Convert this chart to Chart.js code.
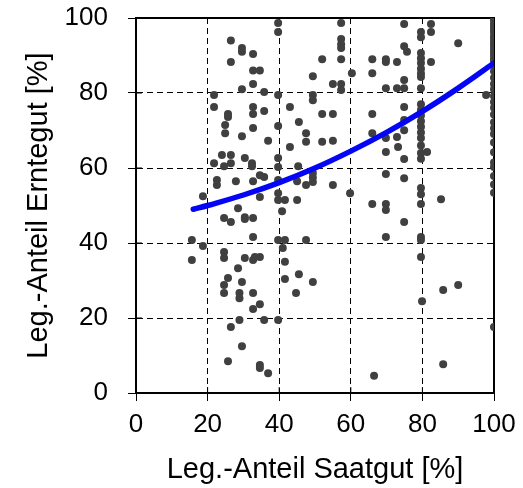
<!DOCTYPE html>
<html>
<head>
<meta charset="utf-8">
<script src="https://cdn.jsdelivr.net/npm/chart.js@4.4.0/dist/chart.umd.min.js"></script>
<style>
  html, body { margin: 0; padding: 0; background: #fff; }
  #wrap { width: 523px; height: 488px; }
</style>
</head>
<body>
<div id="wrap"><canvas id="scatter"></canvas></div>
<script>
// Legume share in seed (x) vs. legume share in harvest (y), in %
var seedShare = [
  26.5, 29.6, 29.6, 32.7, 26.5, 32.7, 32.7, 29.6, 21.8, 21.8, 25.7, 25.7, 24.9, 24.9, 29.6, 32.7, 32.7, 32.7,
  39.7, 39.7, 57.3, 57.3, 57.3, 57.3, 52, 57.3, 66, 34.6, 60.3, 66, 49.4, 55, 57.3, 57.3, 35.8, 39.7, 49.4, 49.4,
  35.8, 43, 52, 55, 66, 45.5, 39.7, 47.5, 47.5, 36.9, 55, 52, 66,
  74.9, 82.4, 82.4, 79.6, 79.6, 90, 74.9, 75.7, 69.8, 69.8, 72.9, 79.6, 79.6, 79.6, 79.6, 79.6, 79.6, 82.4,
  74.9, 74.9, 69.8, 72.9, 79.6, 97.8, 74.9, 79.6, 79.6, 79.6, 79.6, 79.6, 79.6, 69.8, 72.9, 74.9, 69.8, 73.2,
  74.9, 74.9, 79.6, 79.6, 79.6, 79.6, 81.3, 69.8, 74.9, 79.6, 79.6, 79.6, 85.2, 66, 69.8, 69.8, 74.9, 69.8,
  79.6, 79.6, 79.6,
  24, 26.5, 26.5, 21.8, 24.6, 30.4, 32.4, 22.6, 22.6, 27.9, 32.7, 18.7, 28.5, 24.6, 26.5, 30.4, 30.4, 32.7,
  15.6, 18.7, 32.7, 24.6, 24.6, 30.4, 15.6, 32.7, 28.5, 25.7, 24.6, 29.6, 24.6, 28.9, 28.9, 32.7, 32.7, 28.9,
  26.5, 29.6, 25.7,
  43, 39.7, 39.7, 32.4, 45.3, 34.6, 35.8, 49.4, 49.4, 49.4, 39.7, 45, 47.5, 55, 34.6, 39.7, 39.7, 41.6, 45,
  59.8, 40.8, 39.7, 41.6, 47.5, 41, 33.2, 34.6, 41.6, 45.5, 41.6, 49.4, 44.7, 34.6, 35.8, 39.7, 34.6, 34.6,
  36.9, 66.5, 85.8, 90, 79.9, 100, 85.8,
  100, 100, 100, 100, 100, 100, 100, 100, 100, 100, 100, 100, 100, 100, 100, 100, 100,
  100, 100, 100, 100, 100, 100, 100, 100, 100, 100, 100, 100, 100, 100, 100, 100, 100
];
var harvestShare = [
  94, 92, 91, 90.4, 88.3, 86, 82.4, 81, 79.5, 76.3, 74.4, 73.6, 71.5, 69.3, 68.5, 76.3, 74.4, 70.7,
  98.7, 96.3, 98.7, 94.4, 93, 92, 89, 89, 89, 86, 85.3, 85.3, 84.5, 82.4, 82.4, 80.8, 80.3, 79.5, 79.5, 78.1,
  75.2, 76.3, 74.4, 74.4, 74.4, 72.3, 71.2, 69.3, 67, 67.3, 67.3, 67, 69.3,
  98.4, 98.4, 96.3, 96.3, 94.9, 93.3, 92.5, 91, 89, 88.3, 88.3, 90.7, 89.3, 88, 86.5, 85.2, 84.3, 88.3,
  83.5, 81.3, 81.3, 81.3, 81.3, 79.5, 76.3, 77, 75.5, 74, 72.5, 71, 69.5, 68, 68.3, 72.8, 64.3, 65.6,
  70.1, 62.4, 68, 66, 64, 62.5, 64.3, 58.4, 57.3, 54.7, 53, 50.4, 51.7, 50.4, 50.4, 48.8, 45.6, 41.6,
  41.6, 40.8, 36.3,
  63.5, 63.5, 61.3, 61.3, 60.5, 62.7, 60.5, 56.8, 55.5, 56.5, 56.5, 52.5, 49.3, 46.7, 45.6, 46.9, 46.4, 46.7,
  40.8, 39.2, 41.6, 37.6, 36, 36, 35.5, 35.5, 33.3, 30.7, 28.8, 29.6, 26.7, 26.7, 25.3, 26.7, 22.4, 19.5,
  17.6, 12.5, 8.5,
  65.6, 62.7, 60.3, 61.3, 60.5, 58.1, 57.6, 58.7, 57.5, 56.3, 56.8, 56.5, 55.5, 55.5, 52.3, 53.3, 51.5, 51.5, 51.5,
  53.3, 48.5, 40.8, 40.8, 40.8, 38.7, 36.3, 36.3, 35, 31.7, 30.4, 29.6, 26.7, 23.7, 19.5, 19.5, 7.5, 6.7,
  5.3, 4.6, 27.5, 28.8, 24.5, 17.6, 7.7,
  100, 99.5, 98.6, 97.8, 97, 96.3, 95.2, 94.5, 93.6, 92.8, 91.9, 91, 90.2, 89.3, 88.6, 87.5, 85.8,
  84.1, 82.4, 81, 79.2, 77.6, 76.1, 74.3, 72.2, 70.6, 69.1, 66.8, 64.2, 61.5, 60.3, 57.9, 55.6, 53.4
];

// Regression curve
var trendX = [16, 20, 30, 40, 50, 60, 70, 80, 90, 100];
var trendY = [49, 50, 52.8, 56.1, 60, 64.5, 69.5, 75.1, 81.3, 88];

var axisTicks = [0, 20, 40, 60, 80, 100];

var points = seedShare.map(function (x, i) { return { x: x, y: harvestShare[i] }; });
var trend = trendX.map(function (x, i) { return { x: x, y: trendY[i] }; });

var tickFont = { family: "'Liberation Sans', Arial, sans-serif", size: 26 };
var titleFont = { family: "'Liberation Sans', Arial, sans-serif", size: 29 };

// solid frame round the plot area plus ticks reaching inside, under the dots
var frame = {
  id: 'frame',
  beforeDatasetsDraw: function (chart) {
    var a = chart.chartArea, c = chart.ctx;
    var xs = chart.scales.x, ys = chart.scales.y;
    c.save();
    c.strokeStyle = '#000';
    c.lineWidth = 2;
    c.strokeRect(a.left, a.top, a.right - a.left, a.bottom - a.top);
    c.lineWidth = 1;
    c.beginPath();
    axisTicks.forEach(function (v) {
      var px = xs.getPixelForValue(v), py = ys.getPixelForValue(v);
      c.moveTo(px, a.bottom); c.lineTo(px, a.bottom - 6);
      c.moveTo(a.left, py); c.lineTo(a.left + 6, py);
    });
    c.stroke();
    c.restore();
  }
};

function gridColor(ctx) {
  return (ctx.tick && (ctx.tick.value === 0 || ctx.tick.value === 100)) ? 'rgba(0,0,0,0)' : '#000';
}

var scatter = new Chart(document.getElementById('scatter').getContext('2d'), {
  type: 'scatter',
  data: {
    datasets: [{
      type: 'line',
      data: trend,
      borderColor: '#0505f5',
      borderWidth: 5.5,
      borderCapStyle: 'round',
      pointRadius: 0,
      tension: 0.4,
      fill: false,
      order: 0
    }, {
      data: points,
      backgroundColor: '#404040',
      borderWidth: 0,
      pointRadius: 4,
      order: 1
    }]
  },
  options: {
    responsive: true,
    maintainAspectRatio: false,
    animation: false,
    layout: { padding: { top: 18, right: 29, left: 0, bottom: 0 } },
    plugins: { legend: { display: false }, tooltip: { enabled: false } },
    scales: {
      x: {
        type: 'linear', min: 0, max: 100,
        afterBuildTicks: function (s) { s.ticks = axisTicks.map(function (v) { return { value: v }; }); },
        afterFit: function (s) { s.height = 95; s.paddingLeft = 0; s.paddingRight = 0; },
        ticks: { font: tickFont, color: '#000', padding: 8, maxRotation: 0 },
        grid: { color: gridColor, lineWidth: 1, tickLength: 8, tickColor: '#000', tickBorderDash: [] },
        border: { color: '#000', width: 2, dash: [6, 4] },
        title: { display: true, text: 'Leg.-Anteil Saatgut [%]', font: titleFont, color: '#000', padding: { top: 0, bottom: 1 } }
      },
      y: {
        type: 'linear', min: 0, max: 100,
        afterBuildTicks: function (s) { s.ticks = axisTicks.map(function (v) { return { value: v }; }); },
        afterFit: function (s) { s.width = 136; s.paddingTop = 0; s.paddingBottom = 0; },
        ticks: { font: tickFont, color: '#000', padding: 20 },
        grid: { color: gridColor, lineWidth: 1, tickLength: 8, tickColor: '#000', tickBorderDash: [] },
        border: { color: '#000', width: 2, dash: [6, 4] },
        title: { display: true, text: 'Leg.-Anteil Erntegut [%]', font: titleFont, color: '#000', padding: { top: 22, bottom: 0 } }
      }
    }
  },
  plugins: [frame]
});
</script>
</body>
</html>
